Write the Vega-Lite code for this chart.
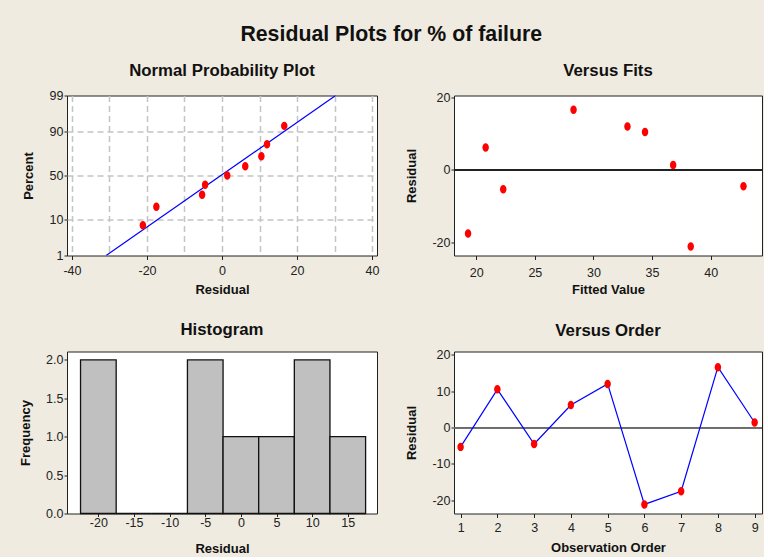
{
  "$schema": "https://vega.github.io/schema/vega-lite/v6.json",
  "background": "#efebe0",
  "padding": {"left": 19, "top": 23.5, "right": 0, "bottom": 0},
  "title": {"text": "Residual Plots for % of failure", "fontSize": 21.3, "font": "Liberation Sans", "fontWeight": "bold", "color": "#111111", "anchor": "start", "frame": "group", "dx": 173.4, "offset": 0, "baseline": "alphabetic"},
  "config": {
    "view": {"stroke": "#222222", "strokeWidth": 1, "fill": "white"},
    "axis": {"domain": false, "grid": false, "labelOverlap": false, "tickColor": "#222222", "tickSize": 4, "labelFont": "Liberation Sans", "labelFontSize": 12.5, "labelColor": "#222222", "titleFont": "Liberation Sans", "titleFontSize": 13, "titleFontWeight": "bold", "titleColor": "#111111"},
    "title": {"font": "Liberation Sans", "fontWeight": "bold", "fontSize": 16.8, "color": "#111111", "baseline": "alphabetic", "anchor": "middle", "frame": "group"}
  },
  "datasets": {
    "resid": [
      {"order": 1, "fit": 22.3, "residual": -5.3, "percent": 28.72, "z": -0.562},
      {"order": 2, "fit": 34.4, "residual": 10.5, "percent": 71.28, "z": 0.562},
      {"order": 3, "fit": 42.8, "residual": -4.5, "percent": 39.36, "z": -0.270},
      {"order": 4, "fit": 20.8, "residual": 6.2, "percent": 60.64, "z": 0.270},
      {"order": 5, "fit": 32.9, "residual": 12.0, "percent": 81.91, "z": 0.911},
      {"order": 6, "fit": 38.3, "residual": -21.1, "percent": 7.45, "z": -1.443},
      {"order": 7, "fit": 19.3, "residual": -17.5, "percent": 18.09, "z": -0.911},
      {"order": 8, "fit": 28.3, "residual": 16.6, "percent": 92.55, "z": 1.443},
      {"order": 9, "fit": 36.8, "residual": 1.4, "percent": 50.0, "z": 0.0}
    ],
    "fitline": [
      {"residual": -30.9, "percent": 1, "z": -2.326},
      {"residual": 30.3, "percent": 99, "z": 2.326}
    ],
    "hist": [
      {"bin_start": -22.5, "bin_end": -17.5, "count": 2},
      {"bin_start": -17.5, "bin_end": -12.5, "count": 0},
      {"bin_start": -12.5, "bin_end": -7.5, "count": 0},
      {"bin_start": -7.5, "bin_end": -2.5, "count": 2},
      {"bin_start": -2.5, "bin_end": 2.5, "count": 1},
      {"bin_start": 2.5, "bin_end": 7.5, "count": 1},
      {"bin_start": 7.5, "bin_end": 12.5, "count": 2},
      {"bin_start": 12.5, "bin_end": 17.5, "count": 1}
    ]
  },
  "columns": 2,
  "spacing": {"row": 96, "column": 77},
  "bounds": "flush",
  "concat": [
    {
      "width": 310, "height": 160,
      "title": {"text": "Normal Probability Plot", "offset": 9.4},
      "encoding": {
        "x": {"field": "residual", "type": "quantitative", "scale": {"domain": [-41.33, 41.33], "nice": false, "zero": false},
          "axis": {"values": [-40, -30, -20, -10, 0, 10, 20, 30, 40], "grid": true, "gridDash": [6, 4], "gridColor": "#c4c4c4", "gridWidth": 1.5,
            "labelExpr": "datum.value % 20 == 0 ? '' + datum.value : ''",
            "tickOpacity": {"condition": {"test": "datum.value % 20 != 0", "value": 0}, "value": 1},
            "title": "Residual", "titleY": 37.5, "titleBaseline": "alphabetic", "labelBaseline": "alphabetic", "labelPadding": 15}},
        "y": {"field": "z", "type": "quantitative", "scale": {"domain": [-2.326, 2.326], "nice": false, "zero": false},
          "axis": {"values": [-2.326, -1.2816, 0, 1.2816, 2.326], "grid": true, "gridDash": [6, 4], "gridColor": "#c4c4c4", "gridWidth": 1.5,
            "gridOpacity": {"condition": {"test": "abs(datum.value) > 2", "value": 0}, "value": 1},
            "labelExpr": "datum.value < -2 ? '1' : datum.value < -1 ? '10' : datum.value < 1 ? '50' : datum.value < 2 ? '90' : '99'",
            "title": "Percent", "titleX": -38.8, "titleBaseline": "middle", "labelPadding": 1, "tickSize": 3}}
      },
      "layer": [
        {
          "data": {"name": "fitline"},
          "mark": {"type": "line", "color": "#0000ff", "strokeWidth": 1.2, "clip": true}
        },
        {
          "data": {"name": "resid"},
          "mark": {"type": "point", "filled": true, "color": "#ff0000", "opacity": 1, "size": 72, "shape": "M0,-1A0.76,1 0 1,1 0,1A0.76,1 0 1,1 0,-1Z"}
        }
      ]
    },
    {
      "width": 308, "height": 160,
      "title": {"text": "Versus Fits", "offset": 11.4},
      "data": {"name": "resid"},
      "layer": [
        {
          "mark": {"type": "rule", "color": "#222222", "strokeWidth": 1},
          "encoding": {"y": {"datum": 0, "type": "quantitative"}}
        },
        {
          "mark": {"type": "point", "filled": true, "color": "#ff0000", "opacity": 1, "size": 72, "shape": "M0,-1A0.76,1 0 1,1 0,1A0.76,1 0 1,1 0,-1Z"},
          "encoding": {
            "x": {"field": "fit", "type": "quantitative", "scale": {"domain": [18.1, 44.38], "nice": false, "zero": false},
              "axis": {"values": [20, 25, 30, 35, 40], "title": "Fitted Value", "titleY": 38.3, "titleBaseline": "alphabetic", "labelBaseline": "alphabetic", "labelPadding": 17}},
            "y": {"field": "residual", "type": "quantitative", "scale": {"domain": [-23.6, 20.55], "nice": false, "zero": false},
              "axis": {"values": [-20, -10, 0, 10, 20], "labelExpr": "'' + datum.value", "title": "Residual", "titleX": -43, "titleBaseline": "middle", "labelPadding": 1, "tickSize": 3}}
          }
        }
      ]
    },
    {
      "width": 310, "height": 162,
      "title": {"text": "Histogram", "offset": 12.6},
      "data": {"name": "hist"},
      "mark": {"type": "rect", "fill": "#c0c0c0", "stroke": "#111111", "strokeWidth": 1.3},
      "encoding": {
        "x": {"field": "bin_start", "type": "quantitative", "scale": {"domain": [-24.4, 19.1], "nice": false, "zero": false},
          "axis": {"values": [-20, -15, -10, -5, 0, 5, 10, 15], "labelExpr": "'' + datum.value", "title": "Residual", "titleY": 38.7, "titleBaseline": "alphabetic", "labelBaseline": "alphabetic", "labelPadding": 10, "tickSize": 3}},
        "x2": {"field": "bin_end"},
        "y": {"field": "count", "type": "quantitative", "scale": {"domain": [0, 2.11], "nice": false},
          "axis": {"values": [0, 0.5, 1, 1.5, 2], "labelExpr": "format(datum.value, '.1f')", "title": "Frequency", "titleX": -41.3, "titleBaseline": "middle", "labelPadding": 1, "tickSize": 3}},
        "y2": {"datum": 0}
      }
    },
    {
      "width": 308, "height": 162,
      "title": {"text": "Versus Order", "offset": 8.6},
      "data": {"name": "resid"},
      "layer": [
        {
          "mark": {"type": "rule", "color": "#6a6a6a", "strokeWidth": 1.3},
          "encoding": {"y": {"datum": 0, "type": "quantitative"}}
        },
        {
          "encoding": {
            "x": {"field": "order", "type": "quantitative", "scale": {"domain": [0.82, 9.2], "nice": false, "zero": false},
              "axis": {"values": [1, 2, 3, 4, 5, 6, 7, 8, 9], "title": "Observation Order", "titleY": 38, "titleBaseline": "alphabetic", "labelBaseline": "alphabetic", "labelPadding": 14, "tickSize": 4}},
            "y": {"field": "residual", "type": "quantitative", "scale": {"domain": [-23.6, 20.9], "nice": false, "zero": false},
              "axis": {"values": [-20, -10, 0, 10, 20], "labelExpr": "'' + datum.value", "title": "Residual", "titleX": -43, "titleBaseline": "middle", "labelPadding": 1, "tickSize": 3}}
          },
          "layer": [
            {"mark": {"type": "line", "color": "#0000ff", "strokeWidth": 1.2}},
            {"mark": {"type": "point", "filled": true, "color": "#ff0000", "opacity": 1, "size": 72, "shape": "M0,-1A0.76,1 0 1,1 0,1A0.76,1 0 1,1 0,-1Z"}}
          ]
        }
      ]
    }
  ]
}
